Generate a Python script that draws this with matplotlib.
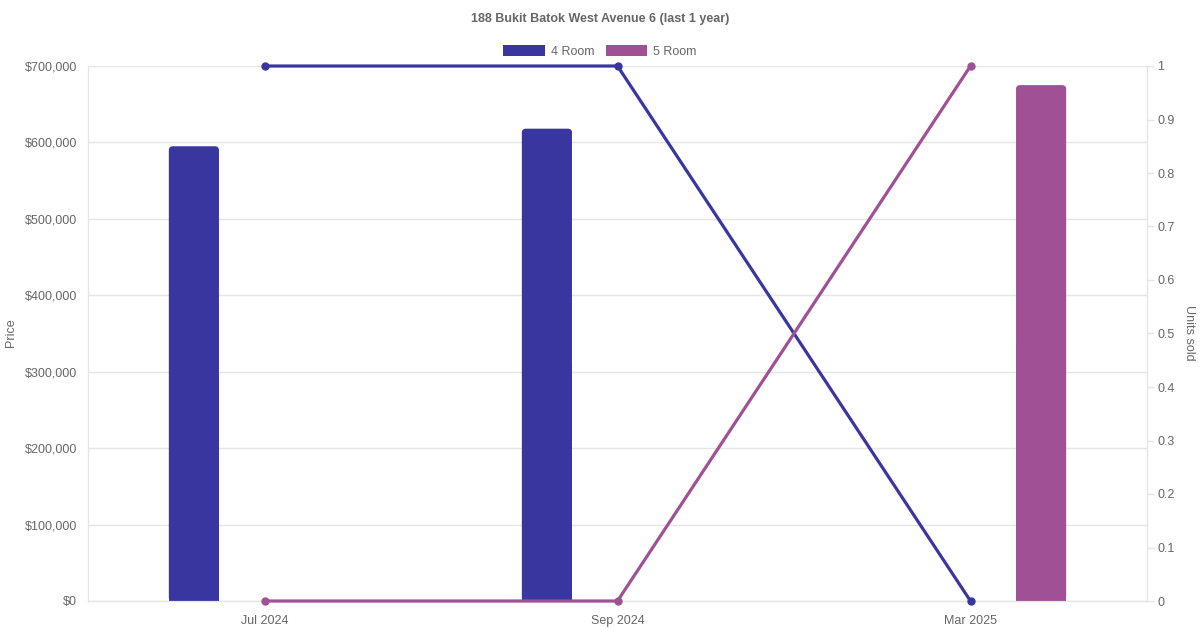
import numpy as np
import matplotlib.pyplot as plt
from matplotlib.patches import Patch, FancyBboxPatch, Rectangle
from matplotlib.ticker import FuncFormatter, MultipleLocator

months = ["Jul 2024", "Sep 2024", "Mar 2025"]
price_4room = [595000, 618000, 0]
price_5room = [0, 0, 675000]
units_4room = [1, 1, 0]
units_5room = [0, 0, 1]

c4 = "#3a36a0"
c5 = "#a05195"
grey = "#666666"
grid = "#e5e5e5"

plt.rcParams['font.family'] = ['Liberation Sans', 'DejaVu Sans']

fig = plt.figure(figsize=(12, 6.3), dpi=100)
ax = fig.add_axes([88 / 1200, 1 - 601 / 630, (1147 - 88) / 1200, (601 - 66) / 630])
ax2 = ax.twinx()

x = np.arange(len(months))
w = 0.142
off = 0.2

ax.set_xlim(-0.5, 2.5)
ax.set_ylim(0, 700000)

# bars with rounded top corners, like the original chart
rx = 0.012
aspect = 5000 / rx
for vals, shift, col in ((price_4room, -off, c4), (price_5room, off, c5)):
    for xi, v in zip(x, vals):
        if v <= 0:
            continue
        ax.add_patch(FancyBboxPatch((xi + shift - w / 2, 0), w, v,
                                    boxstyle=f"round,pad=0,rounding_size={rx}",
                                    mutation_aspect=aspect, facecolor=col,
                                    edgecolor='none', zorder=2))
        ax.add_patch(Rectangle((xi + shift - w / 2, 0), w, v / 2,
                               facecolor=col, edgecolor='none', zorder=2))

ax.yaxis.set_major_locator(MultipleLocator(100000))
ax.yaxis.set_major_formatter(FuncFormatter(lambda v, p: f"${v:,.0f}"))
ax.set_xticks(x)
ax.set_xticklabels(months)
ax.grid(axis='y', color=grid, linewidth=1, zorder=0)
ax.set_axisbelow(True)

ax2.plot(x, units_4room, color=c4, linewidth=2.3, marker='o', markersize=5,
         zorder=3, clip_on=False)
ax2.plot(x, units_5room, color=c5, linewidth=2.3, marker='o', markersize=5,
         zorder=3, clip_on=False)
ax2.set_ylim(0, 1)
ax2.yaxis.set_major_locator(MultipleLocator(0.1))
ax2.yaxis.set_major_formatter(FuncFormatter(lambda v, p: f"{round(v, 1):g}"))

for a in (ax, ax2):
    a.spines['top'].set_visible(False)
    for s in ['left', 'right', 'bottom']:
        a.spines[s].set_color(grid)
    a.tick_params(colors=grey, labelsize=9, width=1)
    a.tick_params(axis='y', color=grid)
ax.tick_params(axis='y', length=0, pad=8)
ax2.tick_params(axis='y', length=5, pad=2.5)
ax.tick_params(axis='x', length=0, pad=10)
ax.spines['bottom'].set_color("#cccccc")

# axis titles placed like the original
fig.text(11 / 1200, 1 - 333 / 630, "Price", rotation=90, ha='center', va='center',
         fontsize=9, color=grey)
fig.text(1189 / 1200, 1 - 333 / 630, "Units sold", rotation=-90, ha='center', va='center',
         fontsize=9, color=grey)

fig.suptitle("188 Bukit Batok West Avenue 6 (last 1 year)", y=1 - 19 / 630, va='center',
             fontsize=9, fontweight='bold', color=grey)

handles = [Patch(facecolor=c4, label="4 Room"), Patch(facecolor=c5, label="5 Room")]
fig.legend(handles=handles, loc='center', bbox_to_anchor=(0.5, 1 - 51.5 / 630), ncol=2,
           frameon=False, fontsize=9, labelcolor=grey, handlelength=3.3, handleheight=0.9,
           handletextpad=0.5, columnspacing=0.9)

fig.savefig("out.png", dpi=100)
